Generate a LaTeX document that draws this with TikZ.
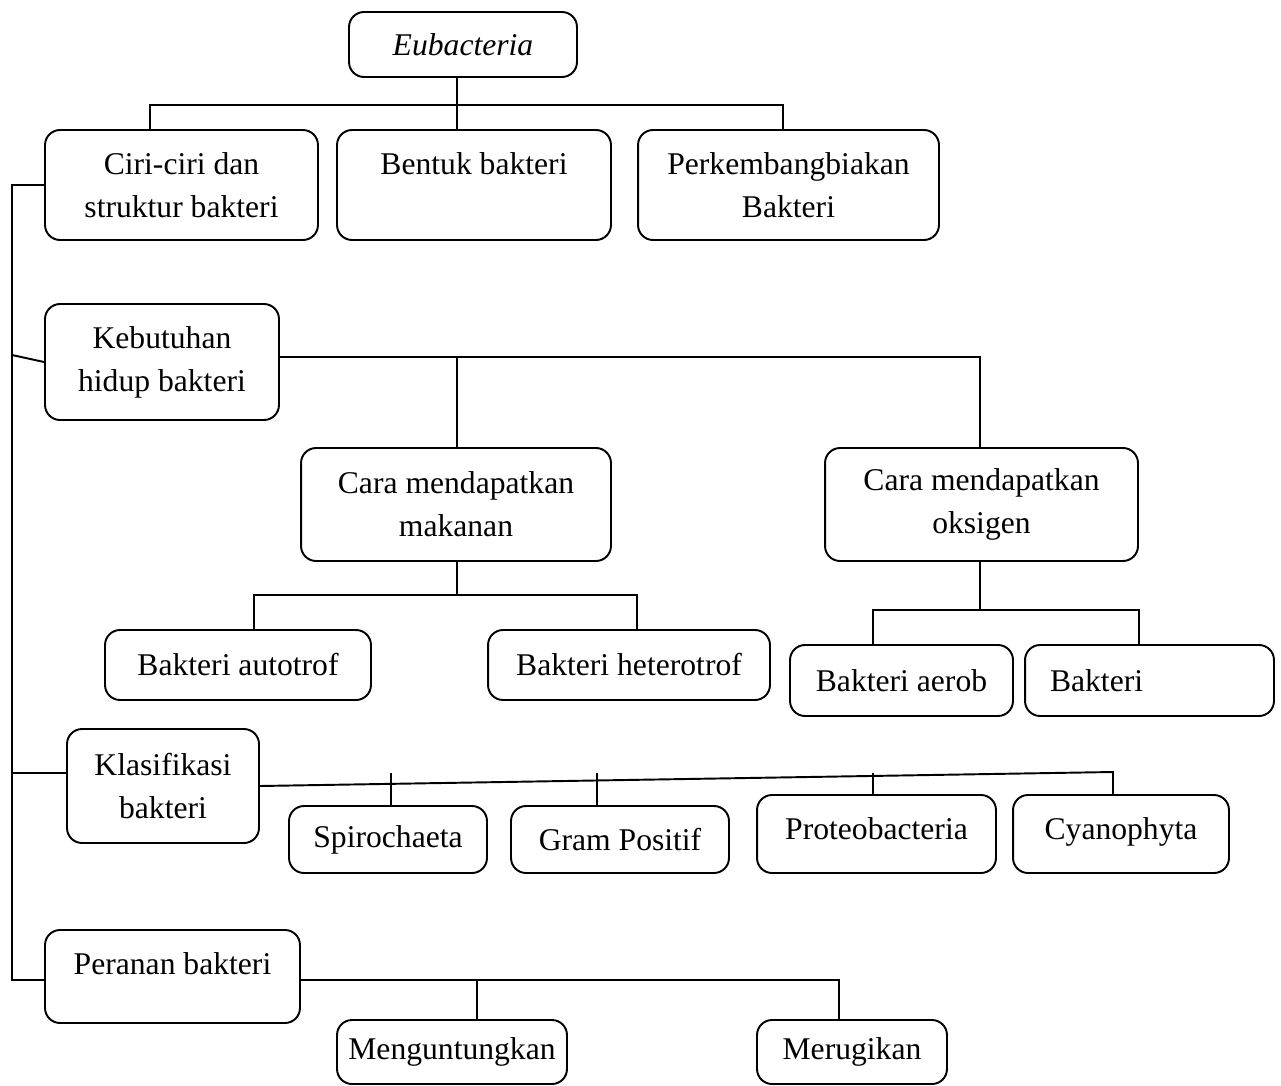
\documentclass[tikz,border=0pt]{standalone}
\usepackage{fontspec}
\setmainfont{Liberation Serif}
\tikzset{
    box/.style = {draw, rounded corners=0.3cm, line width=1.1pt, align=center, inner sep=0pt,
                  font=\fontsize{18}{24.5}\selectfont},
    lift/.style = {text depth=#1},
    wire/.style = {line width=1.1pt}
}
\begin{document}
\begin{tikzpicture}[x=0.02cm, y=-0.02cm]
  \useasboundingbox (0,0) rectangle (1281,1085);
  % top level
  \node [box, minimum width=4.56cm, minimum height=1.30cm] (eub) at (463,44.5) {\textit{Eubacteria}};
  \node [box, minimum width=5.46cm, minimum height=2.20cm] (ciri) at (181.5,185) {Ciri-ciri dan\\struktur bakteri};
  \node [box, minimum width=5.48cm, minimum height=2.20cm] (bentuk) at (474,185) {Bentuk bakteri\\\mbox{}};
  \node [box, minimum width=6.02cm, minimum height=2.20cm] (perk) at (788.5,185) {Perkembangbiakan\\Bakteri};
  % kebutuhan hidup
  \node [box, minimum width=4.68cm, minimum height=2.32cm] (keb) at (162,362) {Kebutuhan\\hidup bakteri};
  \node [box, minimum width=6.20cm, minimum height=2.26cm] (mak) at (456,504.5) {Cara mendapatkan\\makanan};
  \node [box, minimum width=6.26cm, minimum height=2.26cm] (oks) at (981.5,504.5) {Cara mendapatkan\\oksigen};
  \node [box, minimum width=5.32cm, minimum height=1.40cm] (auto) at (238,665) {Bakteri autotrof};
  \node [box, minimum width=5.64cm, minimum height=1.40cm] (hetero) at (629,665) {Bakteri heterotrof};
  \node [box, minimum width=4.46cm, minimum height=1.42cm] (aerob) at (901.5,680.5) {Bakteri aerob};
  \node [box, minimum width=4.98cm, minimum height=1.42cm, inner xsep=0.5cm, text width=3.98cm, align=left] (bakt) at (1149.5,680.5) {Bakteri};
  % klasifikasi
  \node [box, minimum width=3.84cm, minimum height=2.28cm] (klas) at (163,786) {Klasifikasi\\bakteri};
  \node [box, minimum width=3.96cm, minimum height=1.34cm] (spiro) at (388,839.5) {Spirochaeta};
  \node [box, minimum width=4.36cm, minimum height=1.34cm] (gram) at (620,839.5) {Gram Positif};
  \node [box, minimum width=4.78cm, minimum height=1.56cm, lift=6.5pt] (proteo) at (876.5,834) {Proteobacteria};
  \node [box, minimum width=4.32cm, minimum height=1.56cm, lift=6.5pt] (cyano) at (1121,834) {Cyanophyta};
  % peranan
  \node [box, minimum width=5.10cm, minimum height=1.86cm, lift=15pt] (peran) at (172.5,976.5) {Peranan bakteri};
  \node [box, minimum width=4.60cm, minimum height=1.28cm] (untung) at (452,1052) {Menguntungkan};
  \node [box, minimum width=3.80cm, minimum height=1.28cm] (rugi) at (852,1052) {Merugikan};

  % junctions
  \coordinate (t0) at (457,105);
  \coordinate (t1) at (150,105);
  \coordinate (t2) at (783,105);
  \coordinate (s0) at (12,185);
  \coordinate (s1) at (12,355);
  \coordinate (s2) at (12,773);
  \coordinate (s3) at (12,980);
  \coordinate (k0) at (457,357);
  \coordinate (k1) at (980,357);
  \coordinate (m0) at (457,595);
  \coordinate (m1) at (254,595);
  \coordinate (m2) at (637,595);
  \coordinate (o0) at (980,610);
  \coordinate (o1) at (873,610);
  \coordinate (o2) at (1139,610);
  \coordinate (c1) at (391,773);
  \coordinate (c2) at (597,773);
  \coordinate (c3) at (873,773);
  \coordinate (c4) at (1113,772);
  \coordinate (p1) at (477,980);
  \coordinate (p2) at (839,980);

  % connectors
  \draw [wire] (eub.south -| t0) -- (t0 |- bentuk.north);
  \draw [wire] (t1 |- ciri.north) -- (t1) -- (t2) -- (t2 |- perk.north);
  \draw [wire] (ciri.west) -- (s0) -- (s3) -- (s3 -| peran.west);
  \draw [wire] (s1) -- (keb.west);
  \draw [wire] (s2) -- (s2 -| klas.west);
  \draw [wire] (k0 -| keb.east) -- (k1) -- (k1 |- oks.north);
  \draw [wire] (k0) -- (k0 |- mak.north);
  \draw [wire] (m0 |- mak.south) -- (m0);
  \draw [wire] (auto.north -| m1) -- (m1) -- (m2) -- (m2 |- hetero.north);
  \draw [wire] (o0 |- oks.south) -- (o0);
  \draw [wire] (aerob.north -| o1) -- (o1) -- (o2) -- (o2 |- bakt.north);
  \draw [wire] (klas.east) -- (c4) -- (c4 |- cyano.north);
  \draw [wire] (c1) -- (c1 |- spiro.north);
  \draw [wire] (c2) -- (c2 |- gram.north);
  \draw [wire] (c3) -- (c3 |- proteo.north);
  \draw [wire] (peran.east |- p1) -- (p2) -- (p2 |- rugi.north);
  \draw [wire] (p1) -- (p1 |- untung.north);
\end{tikzpicture}
\end{document}
